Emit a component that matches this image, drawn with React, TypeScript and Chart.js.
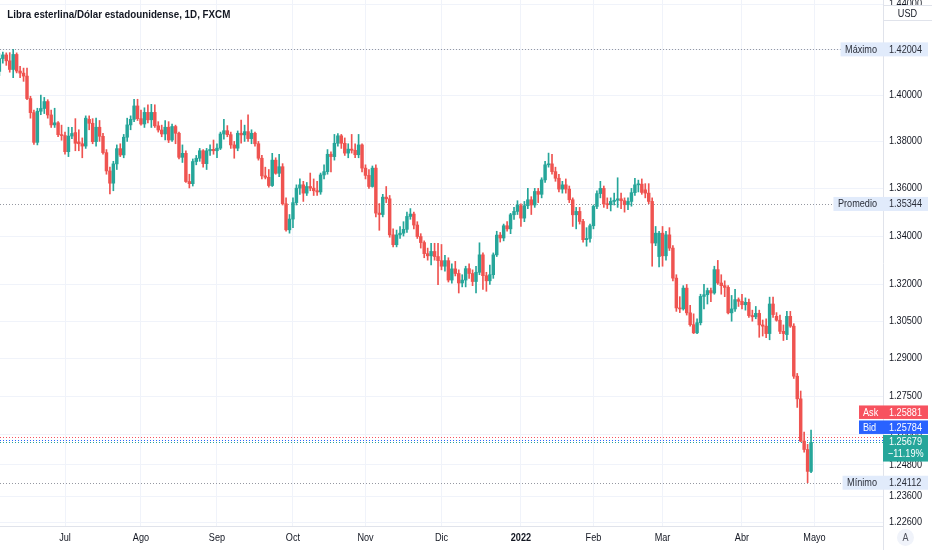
import React, { useEffect, useRef } from 'react';
import { Chart, registerables } from 'chart.js';

Chart.register(...registerables);

const TITLE = 'Libra esterlina/Dólar estadounidense, 1D, FXCM';

// Daily candles [open, high, low, close], one small array per month
const jun2021 = [
  [1.4103, 1.4182, 1.4085, 1.4160], [1.4160, 1.4188, 1.4140, 1.4176], [1.4176, 1.4185, 1.4130, 1.4150],
  [1.4150, 1.4186, 1.4100, 1.4112], [1.4112, 1.42004, 1.4076, 1.4178], [1.4178, 1.4185, 1.4097, 1.4105],
  [1.4105, 1.4126, 1.4076, 1.4096], [1.4096, 1.4118, 1.4060, 1.4083], [1.4083, 1.4118, 1.3980, 1.3985],
  [1.3985, 1.3995, 1.3900, 1.3924], [1.3924, 1.3935, 1.3787, 1.3796], [1.3796, 1.3943, 1.3785, 1.3930],
  [1.3930, 1.4000, 1.3915, 1.3942], [1.3942, 1.3990, 1.3920, 1.3972], [1.3972, 1.3980, 1.3900, 1.3914],
  [1.3914, 1.3935, 1.3860, 1.3871], [1.3871, 1.3943, 1.3860, 1.3880], [1.3880, 1.3885, 1.3820, 1.3829],
  [1.3829, 1.3870, 1.3805, 1.3825],
];
const jul2021 = [
  [1.3825, 1.3840, 1.3745, 1.3756], [1.3756, 1.3861, 1.3735, 1.3823], [1.3823, 1.3861, 1.3812, 1.3834],
  [1.3838, 1.3898, 1.3760, 1.3792], [1.3798, 1.3850, 1.3760, 1.3790], [1.3790, 1.3815, 1.3730, 1.3780],
  [1.3780, 1.3910, 1.3770, 1.3900], [1.3895, 1.3910, 1.3850, 1.3878], [1.3878, 1.3898, 1.3790, 1.3799],
  [1.3799, 1.3900, 1.3780, 1.3861], [1.3861, 1.3890, 1.3800, 1.3822], [1.3822, 1.3835, 1.3745, 1.3752],
  [1.3752, 1.3765, 1.3660, 1.3674], [1.3674, 1.3690, 1.3577, 1.3622], [1.3622, 1.3715, 1.3590, 1.3704],
  [1.3704, 1.3785, 1.3680, 1.3769], [1.3769, 1.3790, 1.3735, 1.3742], [1.3742, 1.3830, 1.3730, 1.3818],
  [1.3818, 1.3900, 1.3800, 1.3871], [1.3871, 1.3910, 1.3850, 1.3895], [1.3895, 1.3982, 1.3885, 1.3953],
  [1.3953, 1.3982, 1.3890, 1.3898],
];
const aug2021 = [
  [1.3898, 1.3935, 1.3870, 1.3875], [1.3875, 1.3945, 1.3860, 1.3925], [1.3925, 1.3958, 1.3880, 1.3893],
  [1.3893, 1.3960, 1.3860, 1.3925], [1.3925, 1.3958, 1.3860, 1.3867], [1.3867, 1.3885, 1.3840, 1.3849],
  [1.3849, 1.3870, 1.3820, 1.3832], [1.3832, 1.3890, 1.3806, 1.3861], [1.3861, 1.3885, 1.3795, 1.3806],
  [1.3806, 1.3875, 1.3800, 1.3864], [1.3864, 1.3870, 1.3790, 1.3835], [1.3835, 1.3840, 1.3725, 1.3732],
  [1.3732, 1.3785, 1.3710, 1.3749], [1.3749, 1.3760, 1.3625, 1.3629], [1.3629, 1.3660, 1.3602, 1.3620],
  [1.3620, 1.3725, 1.3610, 1.3714], [1.3714, 1.3740, 1.3700, 1.3728], [1.3728, 1.3770, 1.3715, 1.3760],
  [1.3760, 1.3765, 1.3690, 1.3705], [1.3705, 1.3770, 1.3680, 1.3760], [1.3760, 1.3785, 1.3740, 1.3766],
  [1.3766, 1.3806, 1.3745, 1.3760],
];
const sep2021 = [
  [1.3760, 1.3790, 1.3730, 1.3771], [1.3771, 1.3840, 1.3765, 1.3832], [1.3832, 1.3895, 1.3810, 1.3846],
  [1.3846, 1.3868, 1.3820, 1.3829], [1.3829, 1.3840, 1.3770, 1.3785], [1.3785, 1.3800, 1.3728, 1.3771],
  [1.3771, 1.3845, 1.3760, 1.3835], [1.3835, 1.3892, 1.3792, 1.3828], [1.3828, 1.3870, 1.3800, 1.3842],
  [1.3842, 1.3914, 1.3800, 1.3812], [1.3812, 1.3850, 1.3790, 1.3835], [1.3835, 1.3840, 1.3780, 1.3790],
  [1.3790, 1.3800, 1.3720, 1.3728], [1.3728, 1.3740, 1.3640, 1.3653], [1.3653, 1.3690, 1.3640, 1.3647],
  [1.3647, 1.3680, 1.3605, 1.3612], [1.3612, 1.3749, 1.3608, 1.3720], [1.3720, 1.3730, 1.3660, 1.3664],
  [1.3664, 1.3745, 1.3650, 1.3692], [1.3692, 1.3705, 1.3530, 1.3535], [1.3535, 1.3560, 1.3420, 1.3426],
  [1.3426, 1.3490, 1.3412, 1.3471],
];
const oct2021 = [
  [1.3471, 1.3560, 1.3435, 1.3540], [1.3540, 1.3615, 1.3530, 1.3601], [1.3601, 1.3640, 1.3575, 1.3615],
  [1.3615, 1.3630, 1.3545, 1.3580], [1.3580, 1.3625, 1.3570, 1.3608], [1.3608, 1.3665, 1.3590, 1.3601],
  [1.3601, 1.3640, 1.3570, 1.3590], [1.3590, 1.3630, 1.3570, 1.3585], [1.3585, 1.3665, 1.3575, 1.3657],
  [1.3657, 1.3700, 1.3640, 1.3671], [1.3671, 1.3765, 1.3660, 1.3745], [1.3745, 1.3755, 1.3670, 1.3735],
  [1.3735, 1.3830, 1.3720, 1.3792], [1.3792, 1.3834, 1.3780, 1.3824], [1.3824, 1.3830, 1.3770, 1.3792],
  [1.3792, 1.3815, 1.3740, 1.3750], [1.3750, 1.3790, 1.3730, 1.3767], [1.3767, 1.3830, 1.3750, 1.3762],
  [1.3762, 1.3790, 1.3730, 1.3743], [1.3743, 1.3830, 1.3730, 1.3785], [1.3785, 1.3790, 1.3670, 1.3686],
];
const nov2021 = [
  [1.3686, 1.3700, 1.3640, 1.3655], [1.3655, 1.3680, 1.3600, 1.3608], [1.3608, 1.3695, 1.3605, 1.3686],
  [1.3686, 1.3700, 1.3480, 1.3496], [1.3496, 1.3536, 1.3424, 1.3490], [1.3490, 1.3575, 1.3480, 1.3563],
  [1.3563, 1.3608, 1.3540, 1.3556], [1.3556, 1.3570, 1.3395, 1.3405], [1.3405, 1.3430, 1.3355, 1.3364],
  [1.3364, 1.3425, 1.3355, 1.3405], [1.3405, 1.3440, 1.3390, 1.3412], [1.3412, 1.3460, 1.3400, 1.3428],
  [1.3428, 1.3500, 1.3415, 1.3482], [1.3482, 1.3515, 1.3470, 1.3492], [1.3492, 1.3500, 1.3430, 1.3446],
  [1.3446, 1.3460, 1.3390, 1.3398], [1.3398, 1.3410, 1.3350, 1.3373], [1.3373, 1.3380, 1.3310, 1.3327],
  [1.3327, 1.3350, 1.3300, 1.3318], [1.3318, 1.3370, 1.3280, 1.3336], [1.3336, 1.3370, 1.3300, 1.3315],
  [1.3315, 1.3370, 1.3199, 1.3298],
];
const dec2021 = [
  [1.3298, 1.3365, 1.3260, 1.3275], [1.3275, 1.3320, 1.3255, 1.3298], [1.3298, 1.3310, 1.3210, 1.3218],
  [1.3218, 1.3285, 1.3205, 1.3264], [1.3264, 1.3295, 1.3235, 1.3245], [1.3245, 1.3260, 1.3165, 1.3206],
  [1.3206, 1.3240, 1.3190, 1.3218], [1.3218, 1.3275, 1.3190, 1.3265], [1.3265, 1.3285, 1.3225, 1.3245],
  [1.3245, 1.3260, 1.3195, 1.3212], [1.3212, 1.3275, 1.3165, 1.3250], [1.3250, 1.3372, 1.3240, 1.3322],
  [1.3322, 1.3330, 1.3180, 1.3236], [1.3236, 1.3250, 1.3172, 1.3215], [1.3215, 1.3280, 1.3200, 1.3240],
  [1.3240, 1.3330, 1.3225, 1.3322], [1.3322, 1.3420, 1.3315, 1.3404], [1.3404, 1.3415, 1.3375, 1.3392],
  [1.3392, 1.3450, 1.3380, 1.3443], [1.3443, 1.3460, 1.3420, 1.3430], [1.3430, 1.3495, 1.3410, 1.3489],
  [1.3489, 1.3520, 1.3470, 1.3503], [1.3503, 1.3548, 1.3490, 1.3530],
];
const jan2022 = [
  [1.3527, 1.3535, 1.3440, 1.3475], [1.3475, 1.3545, 1.3460, 1.3527], [1.3527, 1.3600, 1.3515, 1.3552],
  [1.3552, 1.3565, 1.3490, 1.3530], [1.3530, 1.3600, 1.3520, 1.3587], [1.3587, 1.3600, 1.3540, 1.3575],
  [1.3575, 1.3645, 1.3560, 1.3636], [1.3636, 1.3715, 1.3625, 1.3700], [1.3700, 1.3750, 1.3690, 1.3704],
  [1.3704, 1.3745, 1.3660, 1.3671], [1.3671, 1.3690, 1.3630, 1.3643], [1.3643, 1.3660, 1.3585, 1.3597],
  [1.3597, 1.3630, 1.3580, 1.3615], [1.3615, 1.3640, 1.3580, 1.3597], [1.3597, 1.3610, 1.3540, 1.3552],
  [1.3552, 1.3560, 1.3440, 1.3489], [1.3489, 1.3520, 1.3430, 1.3503], [1.3503, 1.3520, 1.3450, 1.3461],
  [1.3461, 1.3470, 1.3375, 1.3385], [1.3385, 1.3435, 1.3358, 1.3390], [1.3390, 1.3450, 1.3375, 1.3443],
];
const feb2022 = [
  [1.3443, 1.3530, 1.3430, 1.3524], [1.3524, 1.3590, 1.3515, 1.3578], [1.3578, 1.3630, 1.3560, 1.3600],
  [1.3600, 1.3610, 1.3520, 1.3534], [1.3534, 1.3560, 1.3515, 1.3531], [1.3531, 1.3560, 1.3505, 1.3545],
  [1.3545, 1.3580, 1.3530, 1.3550], [1.3550, 1.3645, 1.3520, 1.3556], [1.3556, 1.3580, 1.3515, 1.3548],
  [1.3548, 1.3560, 1.3500, 1.3531], [1.3531, 1.3560, 1.3510, 1.3545], [1.3545, 1.3600, 1.3525, 1.3582],
  [1.3582, 1.3643, 1.3570, 1.3615], [1.3615, 1.3635, 1.3585, 1.3618], [1.3618, 1.3640, 1.3575, 1.3583],
  [1.3594, 1.3620, 1.3560, 1.3580], [1.3580, 1.3620, 1.3535, 1.3545], [1.3545, 1.3560, 1.3275, 1.3371],
  [1.3371, 1.3440, 1.3360, 1.3412], [1.3315, 1.3420, 1.3272, 1.3412],
];
const mar2022 = [
  [1.3412, 1.3440, 1.3275, 1.3318], [1.3318, 1.3420, 1.3300, 1.3405], [1.3405, 1.3435, 1.3340, 1.3350],
  [1.3350, 1.3360, 1.3215, 1.3226], [1.3226, 1.3240, 1.3090, 1.3104], [1.3104, 1.3150, 1.3085, 1.3100],
  [1.3100, 1.3195, 1.3095, 1.3185], [1.3185, 1.3200, 1.3075, 1.3084], [1.3084, 1.3115, 1.3030, 1.3036],
  [1.3036, 1.3080, 1.3000, 1.3003], [1.3003, 1.3060, 1.3000, 1.3044], [1.3044, 1.3160, 1.3035, 1.3151],
  [1.3151, 1.3200, 1.3100, 1.3158], [1.3158, 1.3185, 1.3120, 1.3175], [1.3175, 1.3185, 1.3130, 1.3165],
  [1.3165, 1.3275, 1.3160, 1.3261], [1.3261, 1.3299, 1.3200, 1.3206], [1.3206, 1.3240, 1.3160, 1.3195],
  [1.3195, 1.3215, 1.3150, 1.3188], [1.3188, 1.3195, 1.3080, 1.3084], [1.3084, 1.3155, 1.3050, 1.3100],
  [1.3100, 1.3180, 1.3090, 1.3138], [1.3138, 1.3145, 1.3110, 1.3131],
];
const apr2022 = [
  [1.3131, 1.3160, 1.3100, 1.3117], [1.3117, 1.3145, 1.3095, 1.3127], [1.3127, 1.3140, 1.3065, 1.3073],
  [1.3073, 1.3095, 1.3050, 1.3068], [1.3068, 1.3110, 1.3060, 1.3082], [1.3082, 1.3095, 1.2985, 1.3035],
  [1.3035, 1.3055, 1.2990, 1.3030], [1.3030, 1.3060, 1.2983, 1.3000], [1.3000, 1.3148, 1.2975, 1.3120],
  [1.3120, 1.3148, 1.3065, 1.3077], [1.3070, 1.3085, 1.3050, 1.3054], [1.3054, 1.3075, 1.3000, 1.3009],
  [1.3009, 1.3035, 1.2972, 1.3000], [1.2996, 1.3090, 1.2975, 1.3070], [1.3070, 1.3090, 1.3025, 1.3030],
  [1.3030, 1.3040, 1.2820, 1.2829], [1.2829, 1.2840, 1.2705, 1.2739], [1.2739, 1.2770, 1.2570, 1.2573],
  [1.2573, 1.2608, 1.2530, 1.2540], [1.2540, 1.2560, 1.24112, 1.2455], [1.2455, 1.2616, 1.2450, 1.25679],
];

const monthBlocks = [jun2021, jul2021, aug2021, sep2021, oct2021, nov2021, dec2021, jan2022, feb2022, mar2022, apr2022];
// label of the month that starts after each block
const monthLabels = ['Jul', 'Ago', 'Sep', 'Oct', 'Nov', 'Dic', '2022', 'Feb', 'Mar', 'Abr', 'Mayo'];
const priceTicks = [1.44, 1.42, 1.4, 1.38, 1.36, 1.34, 1.32, 1.305, 1.29, 1.275, 1.26, 1.248, 1.236, 1.226];

const maxPrice = 1.42004;
const avgPrice = 1.35344;
const minPrice = 1.24112;
const askPrice = 1.25881;
const bidPrice = 1.25784;
const lastPrice = 1.25679;
const lastChange = '−11.19%';

const Y_MIN = 1.22454;
const Y_MAX = 1.442;

const UP = '#26a69a';
const DOWN = '#ef5350';
const FONT = "'Liberation Sans', Arial, sans-serif";
const TEXT = '#131722';
const GRID = '#f0f3fa';
const SX = 0.83; // horizontal text compression matching the reference face

const bars = monthBlocks.flat();
const monthStarts: number[] = [];
{
  let acc = 0;
  monthBlocks.forEach((m) => {
    acc += m.length;
    monthStarts.push(acc);
  });
}

function txt(ctx: any, s: string, x: number, y: number, font: string, color: string, align: string, sx = SX) {
  ctx.save();
  ctx.font = font;
  ctx.fillStyle = color;
  ctx.textAlign = align;
  ctx.textBaseline = 'middle';
  ctx.translate(x, y);
  ctx.scale(sx, 1);
  ctx.fillText(s, 0, 0);
  ctx.restore();
}
function txtWidth(ctx: any, s: string, font: string, sx = SX) {
  ctx.save();
  ctx.font = font;
  const w = ctx.measureText(s).width * sx;
  ctx.restore();
  return w;
}

const overlayPlugin = {
  id: 'tvOverlay',
  beforeDatasetsDraw(chart: any) {
    const { ctx, chartArea } = chart;
    const y = chart.scales.y;
    const line = (v: number, color: string, x2: number) => {
      const py = Math.round(y.getPixelForValue(v)) + 0.5;
      ctx.save();
      ctx.strokeStyle = color;
      ctx.lineWidth = 1;
      ctx.setLineDash([1, 2]);
      ctx.beginPath();
      ctx.moveTo(chartArea.left, py);
      ctx.lineTo(x2, py);
      ctx.stroke();
      ctx.restore();
    };
    line(maxPrice, '#9598a1', 841);
    line(avgPrice, '#9598a1', 833);
    line(minPrice, '#9598a1', 842);
    line(askPrice, '#f7525f', chartArea.right);
    line(bidPrice, '#2962ff', chartArea.right);
    line(lastPrice, UP, chartArea.right);
  },
  afterDraw(chart: any) {
    const { ctx, chartArea } = chart;
    const y = chart.scales.y;
    const x = chart.scales.x;
    const axisX = chartArea.right;
    const valX = axisX + 6;
    const boxRight = axisX + 45;
    const f11 = `11px ${FONT}`;

    // price-axis border continued down to the bottom edge
    ctx.save();
    ctx.strokeStyle = '#e0e3eb';
    ctx.lineWidth = 1;
    ctx.beginPath();
    ctx.moveTo(Math.round(axisX) + 0.5, chartArea.bottom);
    ctx.lineTo(Math.round(axisX) + 0.5, chart.height);
    ctx.stroke();
    ctx.restore();

    // price axis labels
    priceTicks.forEach((v) => {
      txt(ctx, v.toFixed(5), valX, y.getPixelForValue(v), f11, TEXT, 'left');
    });
    // time axis labels
    monthStarts.forEach((v, i) => {
      const lab = monthLabels[i];
      const bold = lab === '2022';
      txt(ctx, lab, x.getPixelForValue(v), 538, `${bold ? 'bold ' : ''}11px ${FONT}`, TEXT, 'center');
    });

    const statLabel = (name: string, v: number) => {
      const cy = y.getPixelForValue(v);
      const w = txtWidth(ctx, name, f11);
      const left = axisX - 6 - w - 4.5;
      ctx.fillStyle = '#e1ebfb';
      ctx.fillRect(left, cy - 7, boxRight - left, 14);
      txt(ctx, name, left + 4.5, cy + 0.5, f11, '#2a2e39', 'left');
      txt(ctx, v.toFixed(5), valX, cy + 0.5, f11, '#2a2e39', 'left');
    };
    statLabel('Máximo', maxPrice);
    statLabel('Promedio', avgPrice);
    statLabel('Mínimo', minPrice);

    // last price box
    const ly = y.getPixelForValue(lastPrice);
    const lTop = ly - 7.4;
    ctx.fillStyle = UP;
    ctx.fillRect(axisX, lTop, 45, 26.6);
    txt(ctx, lastPrice.toFixed(5), valX, lTop + 7.2, f11, '#ffffff', 'left');
    txt(ctx, lastChange, valX - 1, lTop + 19.5, f11, '#ffffff', 'left');

    const sideBox = (name: string, v: number, bottom: number, color: string) => {
      const h = 13.5;
      const top = bottom - h;
      ctx.fillStyle = color;
      ctx.fillRect(859, top, boxRight - 859, h);
      txt(ctx, name, 863, top + h / 2 + 0.5, f11, '#ffffff', 'left');
      txt(ctx, v.toFixed(5), valX, top + h / 2 + 0.5, f11, '#ffffff', 'left');
      return top;
    };
    const bidTop = sideBox('Bid', bidPrice, lTop - 1, '#2962ff');
    sideBox('Ask', askPrice, bidTop - 1.5, '#f7525f');

    // currency box
    ctx.save();
    ctx.fillStyle = '#ffffff';
    ctx.fillRect(axisX + 0.5, 6, 48, 14.5);
    ctx.strokeStyle = '#e0e3eb';
    ctx.lineWidth = 1;
    ctx.strokeRect(axisX + 0.5, 5.5, 49, 15);
    ctx.restore();
    txt(ctx, 'USD', axisX + 24.5, 13.5, f11, TEXT, 'center');

    // auto-scale button
    ctx.save();
    ctx.beginPath();
    ctx.arc(905.5, 537.5, 8.5, 0, Math.PI * 2);
    ctx.fillStyle = '#f0f3fa';
    ctx.fill();
    ctx.restore();
    txt(ctx, 'A', 905.5, 538, `10px ${FONT}`, '#50535e', 'center', 0.9);

    // title
    const tf = `bold 10.5px ${FONT}`;
    const tw = txtWidth(ctx, TITLE, tf, 1);
    txt(ctx, TITLE, 7.3, 15, tf, TEXT, 'left', 223 / tw);
  },
};

export default function App() {
  const ref = useRef<HTMLCanvasElement | null>(null);
  useEffect(() => {
    document.body.style.margin = '0';
    if (!ref.current) return;
    const colors = bars.map((b) => (b[3] >= b[0] ? UP : DOWN));
    const chart = new Chart(ref.current, {
      type: 'bar',
      data: {
        datasets: [
          {
            label: 'wick',
            data: bars.map((b, i) => ({ x: i, y: [b[2], b[1]] })) as any,
            backgroundColor: colors,
            barThickness: 1,
            grouped: false,
            order: 2,
          } as any,
          {
            label: 'body',
            data: bars.map((b, i) => ({ x: i, y: [b[0], b[3]] })) as any,
            backgroundColor: colors,
            barThickness: 2.8,
            minBarLength: 1,
            grouped: false,
            order: 1,
          } as any,
        ],
      },
      options: {
        animation: false,
        responsive: false,
        maintainAspectRatio: false,
        layout: { padding: 0, autoPadding: false },
        plugins: { legend: { display: false }, tooltip: { enabled: false }, title: { display: false } },
        events: [],
        scales: {
          x: {
            type: 'linear',
            min: 0.18,
            max: 255.83,
            offset: false,
            afterFit: (s: any) => {
              s.height = 24;
              s.paddingLeft = 0;
              s.paddingRight = 0;
            },
            afterBuildTicks: (s: any) => {
              s.ticks = monthStarts.map((v) => ({ value: v }));
            },
            grid: { color: GRID, drawTicks: false, offset: false },
            border: { color: '#e0e3eb' },
            ticks: { display: false, autoSkip: false },
          },
          y: {
            type: 'logarithmic',
            position: 'right',
            min: Y_MIN,
            max: Y_MAX,
            afterFit: (s: any) => {
              s.width = 49;
              s.paddingTop = 0;
              s.paddingBottom = 0;
            },
            afterBuildTicks: (s: any) => {
              s.ticks = priceTicks.map((v) => ({ value: v }));
              s.min = Y_MIN;
              s.max = Y_MAX;
            },
            grid: { color: GRID, drawTicks: false },
            border: { color: '#e0e3eb' },
            ticks: { display: false, autoSkip: false },
          },
        },
      } as any,
      plugins: [overlayPlugin],
    });
    return () => chart.destroy();
  }, []);
  return (
    <div style={{ position: 'absolute', left: 0, top: 0, width: 932, height: 550, background: '#fff' }}>
      <canvas ref={ref} width={932} height={550} style={{ display: 'block' }} />
    </div>
  );
}
